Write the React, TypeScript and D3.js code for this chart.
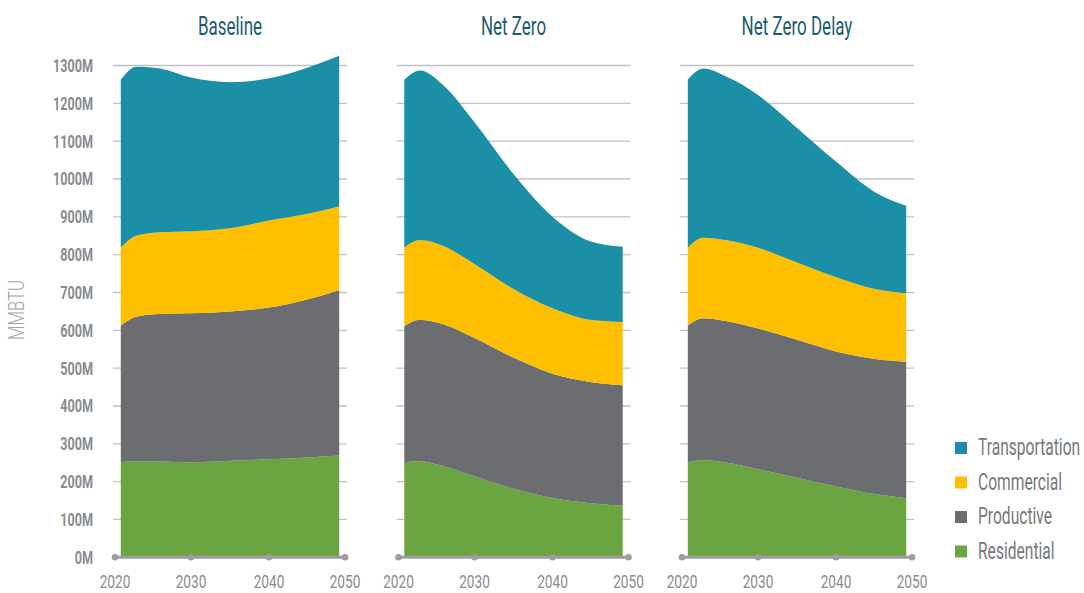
import React from 'react';
import * as d3 from 'd3';

// years the series are sampled at
const years = [2021, 2023, 2026, 2030, 2035, 2040, 2045, 2049];
const xTicks = [2020, 2030, 2040, 2050];
const yTicks = [0, 100, 200, 300, 400, 500, 600, 700, 800, 900, 1000, 1100, 1200, 1300];

const scenarios = ['Baseline', 'Net Zero', 'Net Zero Delay'];
// stack order, bottom to top
const sectors = ['Residential', 'Productive', 'Commercial', 'Transportation'];
const sectorColors = ['#6aa541', '#6c6d70', '#fdbf00', '#1a8fa5'];
const legendOrder = ['Transportation', 'Commercial', 'Productive', 'Residential'];

// MMBTU, millions
const baselineResidential = [251, 254, 253, 251, 255, 259, 264, 269];
const baselineProductive = [362, 382, 390, 394, 395, 401, 418, 437];
const baselineCommercial = [206, 214, 216, 217, 220, 230, 226, 221];
const baselineTransportation = [444, 447, 433, 406, 386, 376, 387, 399];

const netZeroResidential = [251, 254, 241, 214, 181, 157, 143, 136];
const netZeroProductive = [360, 374, 375, 366, 347, 328, 320, 319];
const netZeroCommercial = [208, 211, 207, 195, 181, 173, 164, 167];
const netZeroTransportation = [444, 448, 425, 375, 304, 242, 207, 199];

const delayResidential = [251, 257, 250, 233, 210, 187, 167, 156];
const delayProductive = [362, 375, 374, 372, 365, 357, 357, 361];
const delayCommercial = [206, 213, 214, 213, 204, 196, 185, 181];
const delayTransportation = [444, 447, 432, 404, 356, 306, 256, 231];

const scenarioData = [
  [baselineResidential, baselineProductive, baselineCommercial, baselineTransportation],
  [netZeroResidential, netZeroProductive, netZeroCommercial, netZeroTransportation],
  [delayResidential, delayProductive, delayCommercial, delayTransportation],
];

const W = 1084;
const H = 593;
const panelLeft = [113, 396.5, 680];
const panelWidth = 234;
const font = "Roboto, 'Noto Sans', sans-serif";
const gray = '#8a8b8f';

const y = d3.scaleLinear().domain([0, 1300]).range([557.3, 65.5]);

// no condensed font installed, so squeeze the text horizontally
const NarrowText = ({ x, y, sx = 0.7, anchor = 'start', size, weight = 'normal', fill, children, rotate = 0 }: any) => (
  <text
    transform={`translate(${x},${y}) rotate(${rotate}) scale(${sx},1)`}
    textAnchor={anchor}
    fontFamily={font}
    fontSize={size}
    fontWeight={weight}
    fill={fill}
  >
    {children}
  </text>
);

const Panel = ({ idx }: { idx: number }) => {
  const x = d3.scaleLinear().domain([2020, 2050]).range([panelLeft[idx], panelLeft[idx] + panelWidth]);
  const rows = years.map((yr, i) => {
    const r: any = { year: yr };
    sectors.forEach((s, k) => (r[s] = scenarioData[idx][k][i]));
    return r;
  });
  const series = d3.stack<any>().keys(sectors)(rows);
  const area = d3
    .area<any>()
    .x((d) => x(d.data.year))
    .y0((d) => y(d[0]))
    .y1((d) => y(d[1]))
    .curve(d3.curveMonotoneX);

  return (
    <g>
      <NarrowText x={x(2035)} y={35} sx={0.68} anchor="middle" size={25} weight="normal" fill="#1c5c6b">
        {scenarios[idx]}
      </NarrowText>
      {yTicks.slice(1).map((t) => (
        <line key={t} x1={x(2020)} x2={x(2050)} y1={y(t)} y2={y(t)} stroke="#c2c2c4" strokeWidth={1.3} />
      ))}
      {series.map((s, k) => (
        <path key={s.key} d={area(s) || ''} fill={sectorColors[k]} />
      ))}
      <line x1={x(2020) + 2} x2={x(2050) - 2} y1={y(0)} y2={y(0)} stroke="#9d9da1" strokeWidth={3} />
      {xTicks.map((t) => (
        <g key={t}>
          <circle cx={t === 2020 ? x(t) + 2 : t === 2050 ? x(t) - 2 : x(t)} cy={y(0)} r={3.3} fill="#9d9da1" />
          <NarrowText x={x(t) + (t === 2020 ? 2 : t === 2050 ? -2 : 0)} y={588} sx={0.76} anchor="middle" size={18} fill={gray}>
            {t}
          </NarrowText>
        </g>
      ))}
    </g>
  );
};

export default function App() {
  return (
    <svg width={W} height={H} style={{ position: 'absolute', left: 0, top: 0, background: '#fff' }}>
      <NarrowText x={24} y={310} rotate={-90} sx={0.76} anchor="middle" size={22} weight={300} fill="#a3a3a6">
        MMBTU
      </NarrowText>
      {yTicks.map((t) => (
        <NarrowText key={t} x={93} y={y(t) + 6.5} sx={0.7} anchor="end" size={18} weight="bold" fill={gray}>
          {t}M
        </NarrowText>
      ))}
      {scenarios.map((s, i) => (
        <Panel key={s} idx={i} />
      ))}
      {legendOrder.map((s, i) => (
        <g key={s} transform={`translate(955,${442 + i * 34.5})`}>
          <rect width={12} height={12} fill={sectorColors[sectors.indexOf(s)]} />
          <NarrowText x={23} y={13} sx={0.65} size={24} fill="#77787b">
            {s}
          </NarrowText>
        </g>
      ))}
    </svg>
  );
}
